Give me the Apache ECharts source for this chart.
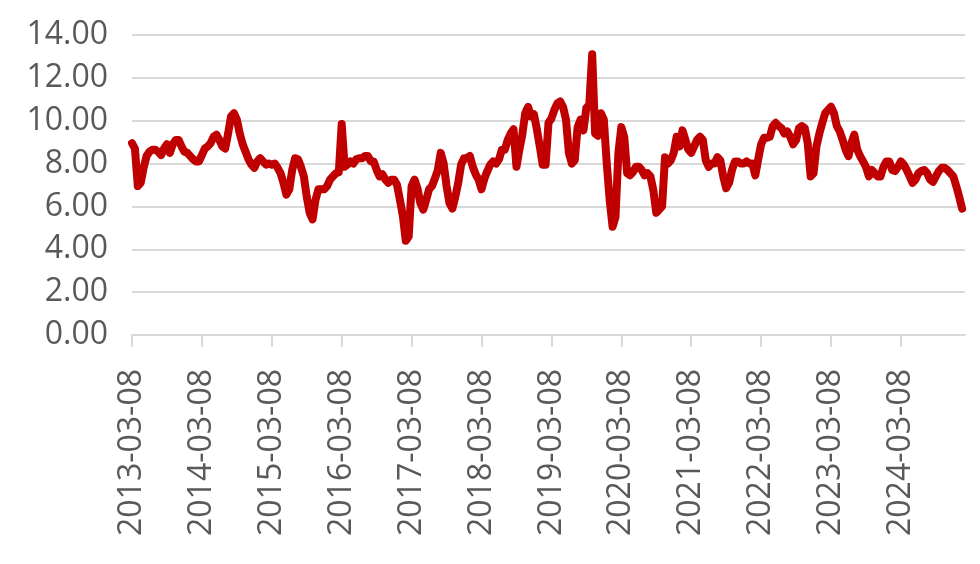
<!DOCTYPE html>
<html>
<head>
<meta charset="utf-8">
<script src="https://cdn.jsdelivr.net/npm/echarts@6/dist/echarts.min.js"></script>
<style>html,body{margin:0;padding:0;background:#fff;}#c{width:980px;height:564px;}</style>
</head>
<body>
<div id="c"></div>
<script>
// Semi-monthly observation dates (the 8th and 23rd of each month), from 2013-03-08
const startYear = 2013, startMonth = 3, nPoints = 287;
const categories = [];
for (let j = 0; j < nPoints; j++) {
  const k = Math.floor(j / 2);
  const m = (startMonth - 1 + k) % 12 + 1;
  const y = startYear + Math.floor((startMonth - 1 + k) / 12);
  categories.push(y + '-' + String(m).padStart(2, '0') + (j % 2 === 0 ? '-08' : '-23'));
}
// Values
const values = [
  // 2013-03 .. 2014-02
  8.95, 8.7, 6.95, 7.1, 7.8, 8.35, 8.55, 8.65, 8.65, 8.55, 8.4, 8.7,
  8.9, 8.5, 8.9, 9.1, 9.1, 8.8, 8.55, 8.5, 8.35, 8.2, 8.1, 8.1,
  // 2014-03 .. 2015-02
  8.4, 8.7, 8.8, 8.95, 9.25, 9.35, 9.1, 8.8, 8.7, 9.4, 10.2, 10.35,
  10.05, 9.4, 8.9, 8.55, 8.2, 7.95, 7.8, 8.1, 8.25, 8.1, 7.95, 8.0,
  // 2015-03 .. 2016-02
  7.95, 8.0, 7.8, 7.55, 7.1, 6.55, 6.8, 7.7, 8.25, 8.2, 7.85, 7.4,
  6.45, 5.7, 5.4, 6.3, 6.8, 6.8, 6.8, 6.95, 7.25, 7.4, 7.55, 7.6,
  // 2016-03 .. 2017-02
  9.85, 7.85, 7.95, 8.1, 8.0, 8.2, 8.25, 8.25, 8.35, 8.35, 8.1, 8.1,
  7.7, 7.4, 7.5, 7.25, 7.1, 7.25, 7.25, 7.0, 6.3, 5.55, 4.4, 4.6,
  // 2017-03 .. 2018-02
  6.95, 7.25, 6.85, 6.15, 5.85, 6.3, 6.8, 6.95, 7.3, 7.7, 8.5, 8.0,
  6.95, 6.15, 5.9, 6.45, 7.1, 7.95, 8.25, 8.25, 8.35, 7.85, 7.5, 7.25,
  // 2018-03 .. 2019-02
  6.8, 7.3, 7.65, 7.95, 8.1, 8.0, 8.2, 8.65, 8.65, 9.1, 9.4, 9.6,
  7.85, 8.65, 9.35, 10.35, 10.65, 10.2, 10.3, 9.6, 8.8, 7.95, 7.95, 9.9,
  // 2019-03 .. 2020-02
  10.1, 10.5, 10.8, 10.9, 10.65, 10.05, 8.5, 8.0, 8.15, 9.7, 10.05, 9.55,
  10.6, 10.75, 13.1, 9.4, 9.3, 10.35, 10.05, 8.0, 6.3, 5.05, 5.5, 8.5,
  // 2020-03 .. 2021-02
  9.7, 9.25, 7.55, 7.45, 7.6, 7.85, 7.85, 7.7, 7.45, 7.55, 7.4, 6.75,
  5.7, 5.85, 6.0, 8.3, 8.0, 8.15, 8.5, 9.25, 8.8, 9.55, 9.1, 8.65,
  // 2021-03 .. 2022-02
  8.5, 8.8, 9.1, 9.25, 9.1, 8.15, 7.85, 8.0, 8.0, 8.3, 8.15, 7.4,
  6.85, 7.1, 7.7, 8.1, 8.1, 8.0, 8.0, 8.1, 8.0, 8.0, 7.45, 8.2,
  // 2022-03 .. 2023-02
  8.9, 9.2, 9.2, 9.25, 9.75, 9.9, 9.75, 9.65, 9.4, 9.5, 9.25, 8.9,
  9.1, 9.65, 9.75, 9.65, 8.95, 7.4, 7.55, 8.8, 9.4, 9.9, 10.35, 10.5,
  // 2023-03 .. 2024-02
  10.65, 10.35, 9.75, 9.5, 9.1, 8.65, 8.35, 8.95, 9.35, 8.65, 8.35, 8.1,
  7.85, 7.4, 7.7, 7.55, 7.4, 7.4, 7.85, 8.1, 8.1, 7.7, 7.65, 7.85,
  // 2024-03 .. 2025-02
  8.1, 7.95, 7.7, 7.4, 7.1, 7.25, 7.55, 7.65, 7.7, 7.55, 7.25, 7.15,
  7.4, 7.65, 7.8, 7.8, 7.7, 7.55, 7.4, 6.95, 6.45, 5.9
];
const yTicks = { min: 0, max: 14, interval: 2 };

const chart = echarts.init(document.getElementById('c'), null, { renderer: 'canvas' });
chart.setOption({
  animation: false,
  backgroundColor: '#ffffff',
  grid: { left: 132, right: 15, top: 35, bottom: 229, containLabel: false },
  xAxis: {
    type: 'category',
    data: categories,
    boundaryGap: false,
    axisLine: { lineStyle: { color: '#D9D9D9', width: 2 } },
    axisTick: { show: true, interval: 23, length: 12, lineStyle: { color: '#D9D9D9', width: 2 } },
    axisLabel: {
      interval: 23, rotate: 90, margin: 34,
      fontFamily: 'Open Sans', fontSize: 32, color: '#595959'
    },
    splitLine: { show: false }
  },
  yAxis: {
    type: 'value',
    min: yTicks.min, max: yTicks.max, interval: yTicks.interval,
    axisLine: { show: false },
    axisTick: { show: false },
    axisLabel: {
      margin: 24, fontFamily: 'Open Sans', fontSize: 32, color: '#595959',
      formatter: v => v.toFixed(2)
    },
    splitLine: { lineStyle: { color: '#D9D9D9', width: 2 } }
  },
  series: [{
    type: 'line',
    data: values,
    showSymbol: false,
    symbol: 'none',
    lineStyle: { color: '#C00000', width: 8, cap: 'round', join: 'round' },
    z: 3
  }]
});
</script>
</body>
</html>
